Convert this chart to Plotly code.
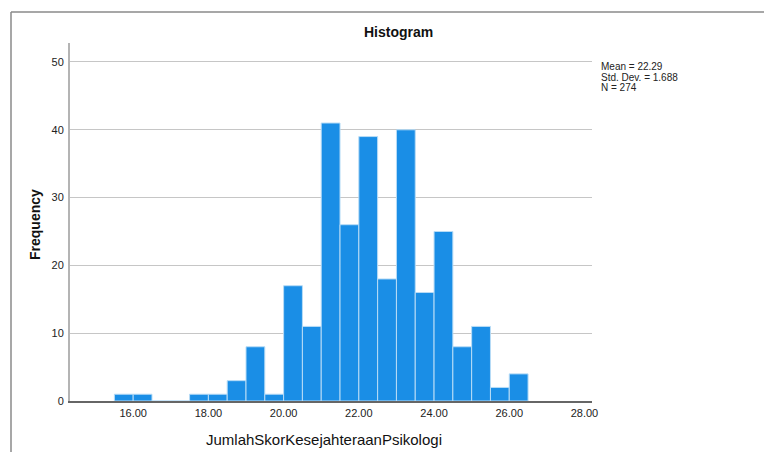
import plotly.graph_objects as go

# Data (bin width 0.5)
bin_lower = [15.5, 16.0, 16.5, 17.0, 17.5, 18.0, 18.5, 19.0, 19.5, 20.0, 20.5,
             21.0, 21.5, 22.0, 22.5, 23.0, 23.5, 24.0, 24.5, 25.0, 25.5, 26.0]
counts = [1, 1, 0, 0, 1, 1, 3, 8, 1, 17, 11,
          41, 26, 39, 18, 40, 16, 25, 8, 11, 2, 4]
bin_width = 0.5
x_ticks = [16, 18, 20, 22, 24, 26, 28]
x_tick_labels = ["16.00", "18.00", "20.00", "22.00", "24.00", "26.00", "28.00"]
y_ticks = [0, 10, 20, 30, 40, 50]
stats_lines = ["Mean = 22.29", "Std. Dev. = 1.688", "N = 274"]

# The page body has an 8px default margin; lay out in window pixels.
OFF = 8
W, H = 772 - OFF, 452 - OFF
L, R, T, B = 70, 592, 43, 401  # plot area in window pixels

def px_x(p):
    return (p - L) / (R - L)

def px_y(p):
    return (B - p) / (B - T)

centers = [b + bin_width / 2 for b in bin_lower]

fig = go.Figure()
fig.add_trace(go.Bar(
    x=centers, y=counts, width=[bin_width] * len(counts),
    marker=dict(color="#1a8ee6", line=dict(color="#b8dcf6", width=1)),
    hoverinfo="x+y", showlegend=False,
))

font = "Liberation Sans, Arial, sans-serif"

fig.update_layout(
    width=W, height=H,
    margin=dict(l=L - OFF, r=772 - R, t=T - OFF, b=452 - B, pad=0),
    paper_bgcolor="white", plot_bgcolor="white",
    font=dict(family=font, size=11, color="#222"),
    xaxis=dict(
        range=[14.32, 28.2], tickvals=x_ticks, ticktext=x_tick_labels,
        showgrid=False, zeroline=False,
        showline=True, linecolor="#666", linewidth=1.5,
        ticks="", ticklabelstandoff=1,
        tickfont=dict(family=font, size=11, color="#222"),
        fixedrange=True,
    ),
    yaxis=dict(
        range=[0, 52.8], tickvals=y_ticks,
        showgrid=True, gridcolor="#c6c6c6", gridwidth=1,
        zeroline=False,
        showline=True, linecolor="#b4b4b4", linewidth=2,
        ticks="", ticklabelstandoff=2,
        tickfont=dict(family=font, size=11, color="#222"),
        fixedrange=True,
    ),
    shapes=[
        dict(type="line", xref="paper", yref="paper",
             x0=px_x(11), x1=px_x(800), y0=px_y(12), y1=px_y(12),
             line=dict(color="#8a8a8a", width=1.5)),
        dict(type="line", xref="paper", yref="paper",
             x0=px_x(11), x1=px_x(11), y0=px_y(12), y1=px_y(470),
             line=dict(color="#8a8a8a", width=1.5)),
    ],
)

annotations = [
    dict(text="<b>Histogram</b>", x=px_x(398), y=px_y(32),
         font=dict(family=font, size=14, color="#111")),
    dict(text="<b>Frequency</b>", x=px_x(35), y=px_y(225), textangle=-90,
         font=dict(family=font, size=14, color="#111")),
    dict(text="JumlahSkorKesejahteraanPsikologi", x=px_x(323.5), y=px_y(439),
         font=dict(family=font, size=15, color="#111")),
]
for i, line in enumerate(stats_lines):
    annotations.append(dict(text=line, x=px_x(599), y=px_y(66.7 + 10.5 * i),
                            xanchor="left",
                            font=dict(family=font, size=10, color="#222")))
for a in annotations:
    a.setdefault("xanchor", "center")
    a.update(xref="paper", yref="paper", yanchor="middle", showarrow=False)
fig.update_layout(annotations=annotations)

fig.write_html("out.html")
